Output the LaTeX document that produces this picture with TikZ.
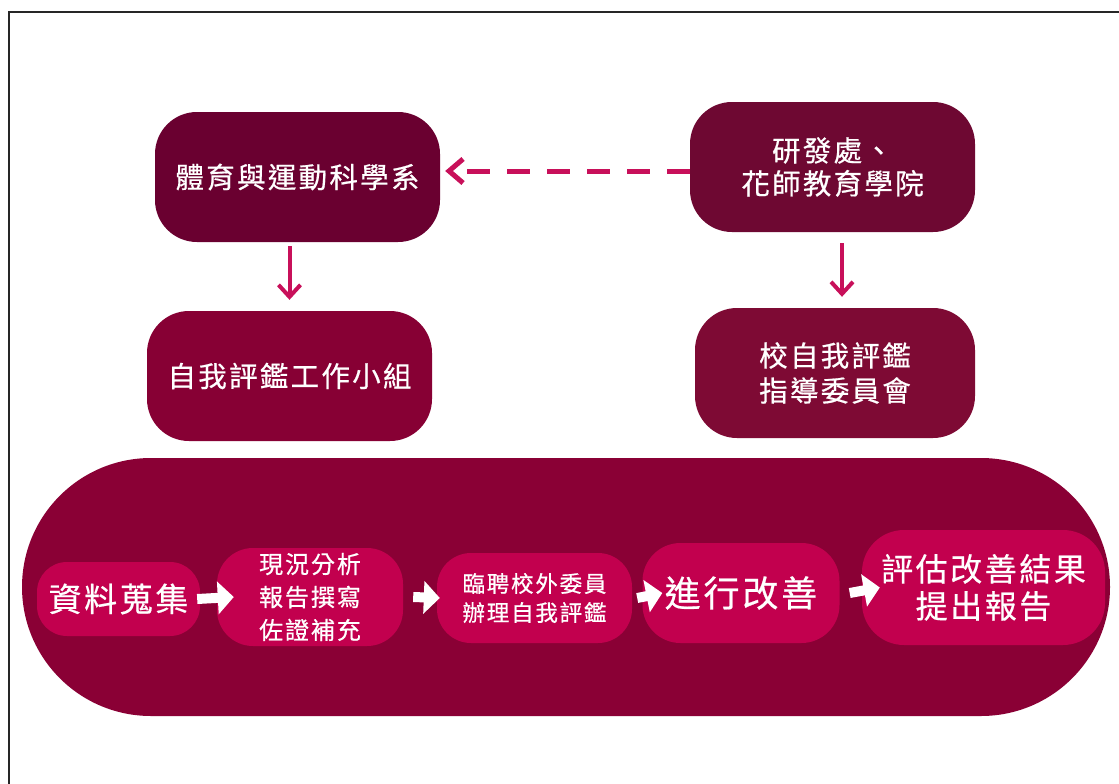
\documentclass[tikz,border=0pt]{standalone}
\usepackage{fontspec}
\newfontfamily\cjk{Noto Sans CJK TC}[LetterSpace=8,FakeBold=0.6]
\usetikzlibrary{arrows.meta,shapes.misc}
\definecolor{topdark}{HTML}{6A0030}
\definecolor{topdarkb}{HTML}{6E0832}
\definecolor{middark}{HTML}{870034}
\definecolor{middarkb}{HTML}{7E0A34}
\definecolor{pillcol}{HTML}{8A0035}
\definecolor{innercol}{HTML}{C2004E}
\definecolor{arrowcol}{HTML}{C8105A}
\tikzset{
  bigbox/.style={draw=none, rounded corners=42pt, minimum width=285pt, minimum height=130pt,
    text=white, align=center, inner sep=0pt, font={\cjk\fontsize{28.5}{33}\selectfont}},
  innerbox/.style={fill=innercol, draw=none, text=white, align=center, inner sep=0pt},
  wa/.style={white, line width=10pt, -{Triangle[length=16pt 0 0,width=32pt 0 0]}},
  pinkarrow/.style={arrowcol, line width=4pt, -{Straight Barb[length=12pt,width=22pt]}},
  dasharrow/.style={arrowcol, line width=5pt, dash pattern=on 23pt off 17pt,
    -{Straight Barb[length=14pt,width=24pt]}},
}
\begin{document}
\begin{tikzpicture}[x=1pt,y=-1pt]
\useasboundingbox (0,0) rectangle (1119,784);
\fill[white] (0,0) rectangle (1119,784);
\draw[line width=1.6pt, black!85] (9,790) -- (9,12) -- (1125,12);

\node[bigbox, fill=topdark] (A) at (297.5,177) {體育與運動科學系};
\node[bigbox, fill=topdarkb] (B) at (832.5,167) {研發處、\\花師教育學院};
\node[bigbox, fill=middark] (C) at (289.5,376) {自我評鑑工作小組};
\node[bigbox, fill=middarkb, minimum width=280pt, font={\cjk\fontsize{28.5}{35}\selectfont}] (D) at (835,373) {校自我評鑑\\指導委員會};

\node[rounded rectangle, fill=pillcol, minimum width=1088pt, minimum height=258pt, inner sep=0pt] (P) at (566,587) {};

\node[innerbox, rounded corners=30pt, minimum width=163pt, minimum height=74pt,
  font={\cjk\fontsize{33}{36}\selectfont}] (b1) at (118.5,599) {資料蒐集};
\node[innerbox, rounded corners=36pt, minimum width=186pt, minimum height=98pt,
  font={\cjk\fontsize{24}{33}\selectfont}] (b2) at (310,597) {現況分析\\報告撰寫\\佐證補充};
\node[innerbox, rounded corners=34pt, minimum width=195pt, minimum height=90pt,
  font={\cjk\fontsize{22.5}{29}\selectfont}] (b3) at (534.5,598) {臨聘校外委員\\辦理自我評鑑};
\node[innerbox, rounded corners=38pt, minimum width=197pt, minimum height=100pt,
  font={\cjk\fontsize{36}{40}\selectfont}] (b4) at (741,593) {進行改善};
\node[innerbox, rounded corners=42pt, minimum width=243pt, minimum height=115pt,
  font={\cjk\fontsize{32}{37}\selectfont}] (b5) at (983.5,587.5) {評估改善結果\\提出報告};

\draw[wa] ([xshift=-3pt]b1.east) -- ([xshift=17pt]b2.west);
\draw[wa] ([xshift=10pt]b2.east) -- ([xshift=3pt]b3.west);
\draw[wa] ([xshift=5pt]b3.east) -- ([xshift=20pt]b4.west);
\draw[wa] ([xshift=10pt]b4.east) -- ([xshift=18pt]b5.west);

\draw[pinkarrow, shorten <=4pt, shorten >=11pt] (C.north |- A.south) -- (C.north);
\draw[pinkarrow, shorten <=11pt, shorten >=11pt] ([xshift=7pt]D.north |- B.south) -- ([xshift=7pt]D.north);

\coordinate (ds) at ([yshift=-4pt]B.west);
\coordinate (de) at (A.east |- ds);
\draw[dasharrow, shorten >=5pt] (ds) -- (de);
\end{tikzpicture}
\end{document}
